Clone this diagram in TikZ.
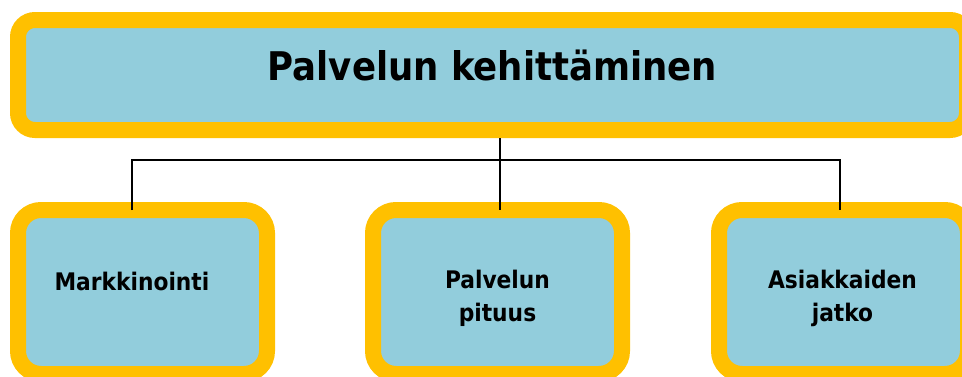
\documentclass[tikz,border=0pt]{standalone}
\usepackage{fontspec}
\setmainfont{DejaVu Sans Condensed}[BoldFont={DejaVu Sans Condensed Bold}]
\begin{document}
\begin{tikzpicture}[x=1pt,y=-1pt,
  frame/.style={draw=gold,line width=16pt,fill=paleblue,rounded corners=17pt,
    outer sep=0pt,inner sep=0pt},
  lowframe/.style={frame,rounded corners=23pt,minimum width=249pt,minimum height=164pt},
  link/.style={draw=black,line width=1.7pt},
  bigtext/.style={font=\bfseries\fontsize{39.5}{44}\selectfont,anchor=base},
  boxtext/.style={font=\bfseries\fontsize{24.2}{32.5}\selectfont,align=center,anchor=base}]
\definecolor{gold}{HTML}{FFC000}
\definecolor{paleblue}{HTML}{92CDDC}
\useasboundingbox (0,0) rectangle (962,376);
\clip (0,0) rectangle (962,376);

% top box
\node[frame,minimum width=949pt,minimum height=110pt] (top) at (492.5,75) {};
\node[bigtext] (toptext) at (492.5,80) {Palvelun kehittäminen};

% three lower boxes
\node[lowframe] (b1) at (142.5,292) {};
\node[lowframe] (b2) at (497.5,292) {};
\node[lowframe] (b3) at (843.5,292) {};

% labels (base anchor sits on the last line)
\node[boxtext,anchor=base west] (t1) at (51,290) {Markkinointi};
\node[boxtext] (t2) at (497.5,321) {Palvelun\\pituus};
\node[boxtext] (t3) at (842.5,321) {Asiakkaiden\\jatko};

% connectors
\coordinate (hub) at (500,160);
\coordinate (k1) at (132,210);
\coordinate (k2) at (500,210);
\coordinate (k3) at (840,210);
\draw[link] ([yshift=-8pt]top.south -| hub) -- (hub);
\draw[link] (k1) |- (hub) -| (k3);
\draw[link] (hub) -- (k2);
\end{tikzpicture}
\end{document}
